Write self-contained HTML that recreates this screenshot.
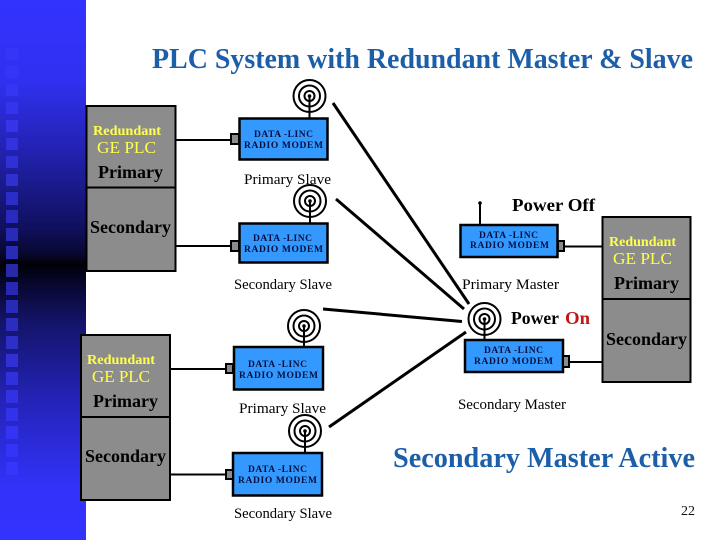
<!DOCTYPE html>
<html><head><meta charset="utf-8"><style>
html,body{margin:0;padding:0;background:#fff}
svg{display:block}
text{font-family:"Liberation Serif",serif;fill:#000}
.b{font-weight:bold}
.y{fill:#ffff4d;font-weight:bold}
.t{fill:#1c5fa8;font-weight:bold;font-size:28px}
.m{font-weight:bold;font-size:9.5px;fill:#06103f}
.p{fill:#8c8c8c;stroke:#000;stroke-width:2}
.mo{fill:#3399ff;stroke:#000;stroke-width:2.5}
.po{fill:#8c8c8c;stroke:#000;stroke-width:2}
.l{stroke:#000;stroke-width:2;fill:none}
.w{stroke:#000;stroke-width:3;fill:none}
.a{stroke:#000;fill:none;stroke-width:2}
</style></head><body>
<svg width="720" height="540" viewBox="0 0 720 540" xmlns="http://www.w3.org/2000/svg">
<defs>
<linearGradient id="g" x1="0" y1="0" x2="0" y2="1">
<stop offset="0" stop-color="#3333ff"/><stop offset="0.15" stop-color="#3030f0"/><stop offset="0.28" stop-color="#2222b0"/><stop offset="0.42" stop-color="#101060"/><stop offset="0.47" stop-color="#080830"/><stop offset="0.49" stop-color="#000005"/><stop offset="0.52" stop-color="#06062a"/><stop offset="0.6" stop-color="#14146c"/><stop offset="0.75" stop-color="#2424bc"/><stop offset="0.9" stop-color="#3232f8"/><stop offset="1" stop-color="#3333ff"/>
</linearGradient>
<g id="ant"><circle r="16" class="a"/><circle r="10.5" class="a"/><circle r="5" class="a"/><circle r="1.8" fill="#000"/><line x1="0" y1="0" x2="0" y2="22" class="a"/></g>
</defs>
<rect width="86" height="540" fill="url(#g)"/>
<g>
<rect x="6" y="48" width="12" height="12" fill="#3535f6"/><rect x="6" y="66" width="12" height="12" fill="#3535f6"/><rect x="6" y="84" width="12" height="12" fill="#3535f4"/><rect x="6" y="102" width="12" height="12" fill="#3434ee"/><rect x="6" y="120" width="12" height="12" fill="#3434ea"/><rect x="6" y="138" width="12" height="12" fill="#3232e0"/><rect x="6" y="156" width="12" height="12" fill="#3030d8"/><rect x="6" y="174" width="12" height="12" fill="#3030d0"/>
<rect x="6" y="192" width="12" height="13" fill="#2c2cc8"/><rect x="6" y="210" width="12" height="13" fill="#2a2ac0"/><rect x="6" y="228" width="12" height="13" fill="#2a2ab8"/><rect x="6" y="246" width="12" height="13" fill="#2a2ab4"/><rect x="6" y="264" width="12" height="13" fill="#2828a8"/><rect x="6" y="282" width="12" height="13" fill="#2828b4"/><rect x="6" y="300" width="12" height="13" fill="#2a2ab8"/><rect x="6" y="318" width="12" height="13" fill="#2c2cc0"/><rect x="6" y="336" width="12" height="13" fill="#2e2ec8"/><rect x="6" y="354" width="12" height="13" fill="#3030d4"/><rect x="6" y="372" width="12" height="13" fill="#3030dc"/><rect x="6" y="390" width="12" height="13" fill="#3232e4"/><rect x="6" y="408" width="12" height="13" fill="#3232ec"/><rect x="6" y="426" width="12" height="13" fill="#3434f2"/><rect x="6" y="444" width="12" height="13" fill="#3434f8"/><rect x="6" y="462" width="12" height="13" fill="#3535fc"/>
</g>

<text x="152" y="68" class="t" textLength="541" lengthAdjust="spacingAndGlyphs">PLC System with Redundant Master &amp; Slave</text>

<!-- wireless links -->
<line x1="333" y1="103" x2="469" y2="304" class="w"/>
<line x1="336" y1="199" x2="464" y2="309" class="w"/>
<line x1="323" y1="309" x2="462" y2="321.5" class="w"/>
<line x1="329" y1="427" x2="466" y2="332" class="w"/>

<!-- PLC top-left -->
<rect x="86.5" y="106" width="89" height="165" class="p"/>
<line x1="86" y1="187.5" x2="176" y2="187.5" class="l"/>
<text x="93" y="135" class="y" font-size="14" textLength="68" lengthAdjust="spacingAndGlyphs">Redundant</text>
<text x="97" y="153" font-size="17" style="fill:#ffff4d" textLength="59" lengthAdjust="spacingAndGlyphs">GE PLC</text>
<text x="98" y="178" class="b" font-size="18" textLength="65" lengthAdjust="spacingAndGlyphs">Primary</text>
<text x="90" y="233" class="b" font-size="18" textLength="81" lengthAdjust="spacingAndGlyphs">Secondary</text>
<line x1="176" y1="140" x2="231" y2="140" class="l"/>
<line x1="176" y1="246" x2="231" y2="246" class="l"/>

<!-- Primary slave -->
<use href="#ant" x="309.5" y="96"/>
<rect x="239.5" y="118.5" width="88" height="41" class="mo"/>
<rect x="231" y="134" width="8" height="10" class="po"/>
<text x="254" y="137" class="m" textLength="59" lengthAdjust="spacing">DATA -LINC</text>
<text x="244" y="148" class="m" textLength="79" lengthAdjust="spacing">RADIO MODEM</text>
<text x="244" y="184" font-size="15" textLength="87" lengthAdjust="spacingAndGlyphs">Primary Slave</text>

<!-- Secondary slave -->
<use href="#ant" x="310" y="201"/>
<rect x="239.5" y="223.5" width="88" height="39" class="mo"/>
<rect x="231" y="241" width="8" height="10" class="po"/>
<text x="253" y="241" class="m" textLength="59" lengthAdjust="spacing">DATA -LINC</text>
<text x="244" y="252" class="m" textLength="79" lengthAdjust="spacing">RADIO MODEM</text>
<text x="234" y="289" font-size="14.8" textLength="98" lengthAdjust="spacingAndGlyphs">Secondary Slave</text>

<!-- PLC right -->
<rect x="602.5" y="217" width="88" height="165" class="p"/>
<line x1="602" y1="299" x2="691" y2="299" class="l"/>
<text x="609" y="246" class="y" font-size="14" textLength="67" lengthAdjust="spacingAndGlyphs">Redundant</text>
<text x="613" y="264" font-size="17" style="fill:#ffff4d" textLength="59" lengthAdjust="spacingAndGlyphs">GE PLC</text>
<text x="614" y="289" class="b" font-size="18" textLength="65" lengthAdjust="spacingAndGlyphs">Primary</text>
<text x="606" y="345" class="b" font-size="18" textLength="81" lengthAdjust="spacingAndGlyphs">Secondary</text>
<line x1="564" y1="246.5" x2="602" y2="246.5" class="l"/>
<line x1="569" y1="362" x2="602" y2="362" class="l"/>

<!-- Primary master -->
<line x1="480" y1="203" x2="480" y2="224" class="a"/><circle cx="480" cy="203" r="1.8" fill="#000"/>
<rect x="460.5" y="225" width="97" height="32" class="mo"/>
<rect x="558" y="241" width="6" height="10" class="po"/>
<text x="479" y="238" class="m" textLength="59" lengthAdjust="spacing">DATA -LINC</text>
<text x="470" y="248" class="m" textLength="79" lengthAdjust="spacing">RADIO MODEM</text>
<text x="512" y="211" class="b" font-size="18" textLength="83" lengthAdjust="spacingAndGlyphs">Power Off</text>
<text x="462" y="289" font-size="15" textLength="97" lengthAdjust="spacingAndGlyphs">Primary Master</text>

<!-- Secondary master -->
<use href="#ant" x="484.5" y="319"/>
<rect x="465" y="340" width="98" height="32" class="mo"/>
<rect x="563" y="356" width="6" height="11" class="po"/>
<text x="484" y="353" class="m" textLength="59" lengthAdjust="spacing">DATA -LINC</text>
<text x="474" y="364" class="m" textLength="79" lengthAdjust="spacing">RADIO MODEM</text>
<text x="511" y="324" class="b" font-size="18" textLength="48" lengthAdjust="spacingAndGlyphs">Power</text>
<text x="565" y="324" class="b" font-size="18" style="fill:#c01818" textLength="25" lengthAdjust="spacingAndGlyphs">On</text>
<text x="458" y="409" font-size="15" textLength="108" lengthAdjust="spacingAndGlyphs">Secondary Master</text>

<!-- PLC bottom-left -->
<rect x="81" y="335" width="89" height="165" class="p"/>
<line x1="80" y1="417" x2="170" y2="417" class="l"/>
<text x="87" y="364" class="y" font-size="14" textLength="68" lengthAdjust="spacingAndGlyphs">Redundant</text>
<text x="92" y="382" font-size="17" style="fill:#ffff4d" textLength="58" lengthAdjust="spacingAndGlyphs">GE PLC</text>
<text x="93" y="407" class="b" font-size="18" textLength="65" lengthAdjust="spacingAndGlyphs">Primary</text>
<text x="85" y="462" class="b" font-size="18" textLength="81" lengthAdjust="spacingAndGlyphs">Secondary</text>
<line x1="170" y1="369" x2="225" y2="369" class="l"/>
<line x1="170" y1="474.5" x2="225" y2="474.5" class="l"/>

<!-- Lower primary slave -->
<use href="#ant" x="304" y="326"/>
<rect x="234" y="347" width="89" height="42.5" class="mo"/>
<rect x="226" y="364" width="7" height="9" class="po"/>
<text x="248" y="367" class="m" textLength="59" lengthAdjust="spacing">DATA -LINC</text>
<text x="239" y="378" class="m" textLength="79" lengthAdjust="spacing">RADIO MODEM</text>
<text x="239" y="413" font-size="15" textLength="87" lengthAdjust="spacingAndGlyphs">Primary Slave</text>

<!-- Lower secondary slave -->
<use href="#ant" x="305" y="431"/>
<rect x="233" y="453" width="89" height="42.5" class="mo"/>
<rect x="226" y="470" width="7" height="9" class="po"/>
<text x="248" y="472" class="m" textLength="59" lengthAdjust="spacing">DATA -LINC</text>
<text x="238" y="483" class="m" textLength="79" lengthAdjust="spacing">RADIO MODEM</text>
<text x="234" y="518" font-size="14.8" textLength="98" lengthAdjust="spacingAndGlyphs">Secondary Slave</text>

<text x="393" y="467" class="t" textLength="302" lengthAdjust="spacingAndGlyphs">Secondary Master Active</text>
<text x="681" y="515" font-size="14" style="fill:#111" textLength="14" lengthAdjust="spacingAndGlyphs">22</text>
</svg>
</body></html>
